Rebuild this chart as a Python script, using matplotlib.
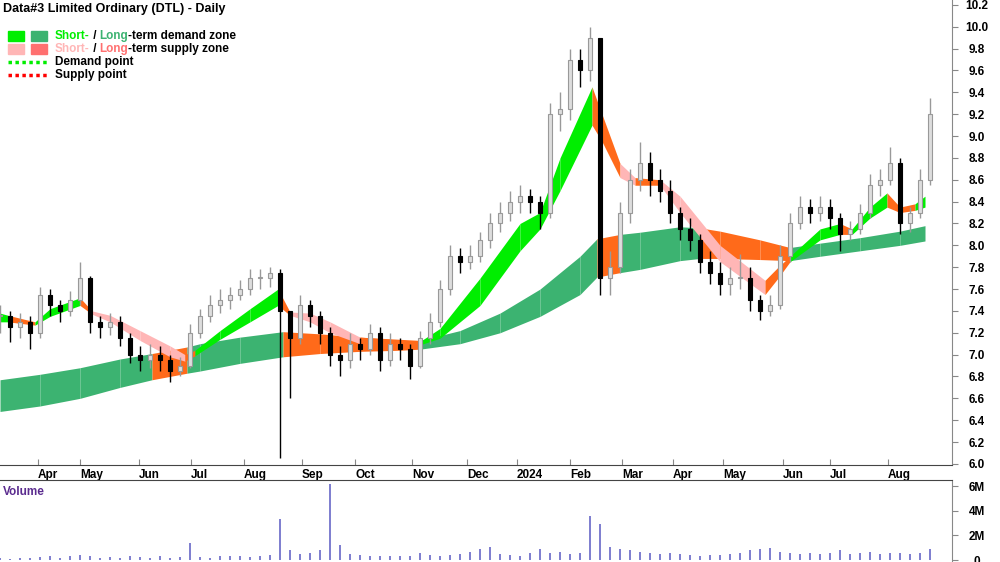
import matplotlib
matplotlib.use("Agg")
import matplotlib.pyplot as plt
from matplotlib.patches import Rectangle

plt.rcParams["font.family"] = ["Liberation Sans", "DejaVu Sans"]

# ---------- data (x in chart units, one candle every 10 units) ----------
closes = [7.35, 7.25, 7.3, 7.2, 7.55, 7.45, 7.4, 7.5, 7.7, 7.3,
          7.25, 7.3, 7.15, 7.0, 6.95, 7.0, 6.95, 6.85, 6.9, 7.2,
          7.35, 7.45, 7.5, 7.55, 7.6, 7.7, 7.7, 7.75, 7.4, 7.15,
          7.45, 7.35, 7.2, 7.0, 6.95, 7.1, 7.05, 7.2, 6.95, 7.1,
          7.05, 6.9, 7.15, 7.3, 7.6, 7.9, 7.85, 7.9, 8.05, 8.2,
          8.3, 8.4, 8.45, 8.4, 8.3, 9.2, 9.25, 9.7, 9.6, 9.9,
          7.7, 7.8, 8.3, 8.6, 8.75, 8.6, 8.5, 8.3, 8.15, 8.05,
          7.85, 7.75, 7.65, 7.7, 7.7, 7.5, 7.4, 7.45, 7.9, 8.2,
          8.35, 8.3, 8.35, 8.25, 8.1, 8.15, 8.3, 8.55, 8.6, 8.75,
          8.2, 8.3, 8.6, 9.2]
highs = [7.45, 7.4, 7.38, 7.35, 7.62, 7.6, 7.5, 7.58, 7.85, 7.72,
         7.35, 7.38, 7.35, 7.2, 7.08, 7.1, 7.08, 7.0, 6.98, 7.28,
         7.42, 7.55, 7.6, 7.62, 7.68, 7.78, 7.78, 7.8, 7.78, 7.4,
         7.55, 7.5, 7.4, 7.25, 7.08, 7.2, 7.15, 7.28, 7.25, 7.2,
         7.15, 7.1, 7.22, 7.38, 7.68, 8.0, 7.98, 8.0, 8.12, 8.3,
         8.4, 8.5, 8.55, 8.52, 8.45, 9.3, 9.4, 9.8, 9.8, 10.0,
         9.9, 7.95, 8.4, 8.7, 8.95, 8.85, 8.7, 8.6, 8.35, 8.25,
         8.1, 7.95, 7.85, 7.8, 7.92, 7.8, 7.55, 7.55, 8.0, 8.3,
         8.45, 8.42, 8.45, 8.42, 8.3, 8.22, 8.38, 8.65, 8.7, 8.9,
         8.8, 8.35, 8.7, 9.35]
lows = [7.2, 7.12, 7.15, 7.05, 7.15, 7.35, 7.3, 7.35, 7.45, 7.2,
        7.15, 7.18, 7.08, 6.92, 6.85, 6.88, 6.85, 6.75, 6.8, 6.88,
        7.15, 7.3, 7.38, 7.42, 7.5, 7.55, 7.6, 7.62, 6.05, 6.6,
        7.1, 7.25, 7.1, 6.9, 6.8, 6.88, 6.95, 7.0, 6.85, 6.9,
        6.95, 6.78, 6.88, 7.1, 7.25, 7.55, 7.75, 7.78, 7.85, 7.98,
        8.12, 8.22, 8.3, 8.3, 8.15, 8.25, 9.05, 9.15, 9.45, 9.5,
        7.55, 7.55, 7.75, 8.2, 8.5, 8.45, 8.4, 8.2, 8.05, 7.95,
        7.75, 7.65, 7.55, 7.55, 7.6, 7.4, 7.32, 7.35, 7.42, 7.85,
        8.15, 8.2, 8.22, 8.15, 7.95, 8.05, 8.1, 8.25, 8.45, 8.55,
        8.1, 8.12, 8.25, 8.55]
volume_m = [0.15, 0.12, 0.2, 0.18, 0.25, 0.3, 0.2, 0.35, 0.45, 0.3,
            0.2, 0.25, 0.2, 0.3, 0.25, 0.2, 0.3, 0.2, 0.25, 1.4,
            0.25, 0.2, 0.35, 0.3, 0.3, 0.25, 0.35, 0.4, 3.3, 0.8,
            0.5, 0.6, 0.8, 6.2, 1.2, 0.5, 0.4, 0.35, 0.3, 0.3,
            0.3, 0.35, 0.6, 0.4, 0.35, 0.4, 0.5, 0.7, 0.9, 1.1,
            0.5, 0.4, 0.35, 0.6, 0.9, 0.6, 0.7, 0.5, 0.6, 3.6,
            2.9, 1.1, 0.9, 0.8, 0.7, 0.6, 0.5, 0.6, 0.5, 0.4,
            0.35, 0.4, 0.45, 0.5, 0.6, 0.8, 0.9, 1.0, 0.7, 0.6,
            0.5, 0.55, 0.5, 0.6, 0.8, 0.5, 0.6, 0.7, 0.5, 0.6,
            0.55, 0.5, 0.6, 0.9]

long_x = [0, 40, 80, 120, 152, 187, 200, 240, 283, 320, 360, 400, 420, 460, 500,
          540, 580, 597, 620, 640, 680, 700, 720, 760, 790, 820, 860, 900, 925]
long_hi = [6.77, 6.82, 6.88, 6.96, 7.01, 7.07, 7.1, 7.16, 7.21, 7.19, 7.16, 7.14, 7.13,
           7.22, 7.38, 7.6, 7.9, 8.06, 8.1, 8.12, 8.17, 8.16, 8.13, 8.05, 7.98, 8.02,
           8.07, 8.13, 8.18]
long_lo = [6.48, 6.53, 6.6, 6.7, 6.77, 6.83, 6.85, 6.92, 6.98, 7.01, 7.03, 7.04, 7.05,
           7.1, 7.2, 7.35, 7.55, 7.71, 7.75, 7.78, 7.86, 7.88, 7.88, 7.87, 7.86, 7.9,
           7.95, 8.0, 8.04]
long_state = ["d", "d", "d", "d", "s", "d", "d", "d", "s", "s", "s", "s", "d", "d", "d",
              "d", "d", "s", "d", "d", "d", "s", "s", "s", "d", "d", "d", "d", "d"]

short_x = [0, 8, 35, 50, 80, 92, 110, 140, 170, 185, 195, 220, 250, 278, 290, 310, 330,
           360, 420, 440, 480, 520, 540, 560, 592, 602, 620, 635, 660, 680, 720, 765,
           778, 790, 820, 840, 852, 870, 887, 900, 915, 925]
short_lo = [7.3, 7.3, 7.27, 7.35, 7.45, 7.37, 7.3, 7.13, 6.98, 6.94, 6.99, 7.14, 7.3,
            7.45, 7.36, 7.3, 7.2, 7.1, 7.09, 7.15, 7.45, 7.95, 8.15, 8.5, 9.1, 8.95,
            8.62, 8.55, 8.55, 8.3, 7.85, 7.55, 7.7, 7.85, 8.05, 8.1, 8.1, 8.25, 8.35,
            8.3, 8.32, 8.35]
short_hi = [7.38, 7.36, 7.3, 7.42, 7.52, 7.4, 7.36, 7.22, 7.08, 7.0, 7.04, 7.22, 7.42,
            7.6, 7.39, 7.38, 7.3, 7.16, 7.12, 7.24, 7.7, 8.2, 8.3, 8.8, 9.45, 9.2, 8.75,
            8.62, 8.6, 8.45, 8.0, 7.68, 7.8, 7.9, 8.15, 8.2, 8.15, 8.35, 8.48, 8.35,
            8.38, 8.45]
short_state = ["d", "o", "d", "d", "o", "s", "s", "s", "s", "o", "d", "d", "d", "o",
               "s", "s", "s", "o", "d", "d", "d", "d", "d", "d", "o", "o", "s", "o",
               "s", "s", "s", "o", "o", "d", "d", "o", "d", "d", "o", "o", "d", "d"]

month_pos = [38, 80, 139, 191, 244, 302, 355, 412, 467, 517, 570, 622, 673, 723, 783, 830, 888]
month_lab = ["Apr", "May", "Jun", "Jul", "Aug", "Sep", "Oct", "Nov", "Dec", "2024",
             "Feb", "Mar", "Apr", "May", "Jun", "Jul", "Aug"]

LIME = "#00EE00"
SEA = "#3CB371"
PINK = "#FFB6B6"
ORANGE = "#FF6A1A"
SHORT_C = {"d": LIME, "s": PINK, "o": ORANGE}
LONG_C = {"d": SEA, "s": ORANGE}

fig = plt.figure(figsize=(10, 5.62), dpi=100)
ax = fig.add_axes([0, 1 - 465 / 562, 0.952, 465 / 562])
axv = fig.add_axes([0, 0, 0.952, 82 / 562], sharex=ax)

# zones
for i in range(len(long_x) - 1):
    ax.fill_between(long_x[i:i + 2], long_lo[i:i + 2], long_hi[i:i + 2],
                    color=LONG_C[long_state[i]], lw=0, zorder=1)
for i in range(len(short_x) - 1):
    ax.fill_between(short_x[i:i + 2], short_lo[i:i + 2], short_hi[i:i + 2],
                    color=SHORT_C[short_state[i]], lw=0, zorder=2)

# candles
xs = [10 * i for i in range(len(closes))]
opens = [closes[0]] + closes[:-1]
for x, o, h, l, c in zip(xs, opens, highs, lows, closes):
    up = c >= o
    col = "#999999" if up else "black"
    ax.vlines(x, l, h, color=col, lw=1, zorder=3)
    ax.add_patch(Rectangle((x - 1.8, min(o, c)), 3.6, max(abs(c - o), 0.01),
                           facecolor="#dddddd" if up else "black", edgecolor=col,
                           lw=0.8, zorder=4))

ax.set_xlim(0, 952)
ax.set_ylim(5.99, 10.245)
ax.yaxis.tick_right()
ax.set_yticks([6.0 + 0.2 * k for k in range(22)])
ax.set_yticklabels([f"{6.0 + 0.2 * k:.1f}" for k in range(22)], fontsize=8.5,
                   fontweight="bold")
ax.tick_params(axis="y", direction="out", length=4, pad=14, color="#888888")
for t in ax.get_yticklabels():
    t.set_horizontalalignment("center")
ax.set_xticks(month_pos)
ax.set_xticklabels(month_lab, fontsize=8.5, fontweight="bold", ha="left")
ax.tick_params(axis="x", direction="in", length=4, pad=3, color="#888888")
for s in ["top", "left"]:
    ax.spines[s].set_visible(False)
ax.spines["right"].set_color("#888888")
ax.spines["bottom"].set_color("#444444")

# title and legend
ax.text(0.003, 0.993, "Data#3 Limited Ordinary (DTL) - Daily", transform=ax.transAxes,
        fontsize=9, fontweight="bold", va="top")
fig.patches.extend([
    Rectangle((8 / 1000, 1 - 41 / 562), 16 / 1000, 10 / 562, color=LIME, transform=fig.transFigure),
    Rectangle((31 / 1000, 1 - 41 / 562), 16 / 1000, 10 / 562, color=SEA, transform=fig.transFigure),
    Rectangle((8 / 1000, 1 - 54 / 562), 16 / 1000, 10 / 562, color=PINK, transform=fig.transFigure),
    Rectangle((31 / 1000, 1 - 54 / 562), 16 / 1000, 10 / 562, color="#FF7070", transform=fig.transFigure),
])
fig.lines.extend([
    plt.Line2D([8 / 1000, 47 / 1000], [1 - 62 / 562] * 2, color=LIME, lw=2.5, ls=(0, (1, 1)),
               transform=fig.transFigure),
    plt.Line2D([8 / 1000, 47 / 1000], [1 - 75 / 562] * 2, color="red", lw=2.5, ls=(0, (1, 1)),
               transform=fig.transFigure),
])
fs = 8.5
def legend_line(y, parts):
    x = 55 / 1000
    t = None
    for txt, col in parts:
        t = fig.text(x, 1 - y / 562, txt, color=col, fontsize=fs, fontweight="bold", va="center")
        fig.canvas.draw()
        bb = t.get_window_extent()
        x = bb.x1 / 1000
legend_line(36, [("Short-", LIME), (" / ", "black"), ("Long", SEA), ("-term demand zone", "black")])
legend_line(49, [("Short-", PINK), (" / ", "black"), ("Long", "#FF7070"), ("-term supply zone", "black")])
legend_line(62, [("Demand point", "black")])
legend_line(75, [("Supply point", "black")])

# volume
axv.bar(xs, volume_m, width=1.6, color="#8080D0", zorder=2)
axv.set_ylim(-0.15, 6.5)
axv.yaxis.tick_right()
axv.set_yticks([0, 2, 4, 6])
axv.set_yticklabels(["0", "2M", "4M", "6M"], fontsize=8.5, fontweight="bold")
axv.tick_params(axis="y", direction="out", length=4, pad=14, color="#888888")
for t in axv.get_yticklabels():
    t.set_horizontalalignment("center")
axv.tick_params(axis="x", bottom=False, labelbottom=False)
for s in ["bottom", "left"]:
    axv.spines[s].set_visible(False)
axv.spines["right"].set_color("#888888")
axv.spines["top"].set_color("#444444")
axv.text(0.003, 0.93, "Volume", transform=axv.transAxes, color="#5B2C8F",
         fontsize=8.5, fontweight="bold", va="top")

fig.savefig("out.png", dpi=100)
